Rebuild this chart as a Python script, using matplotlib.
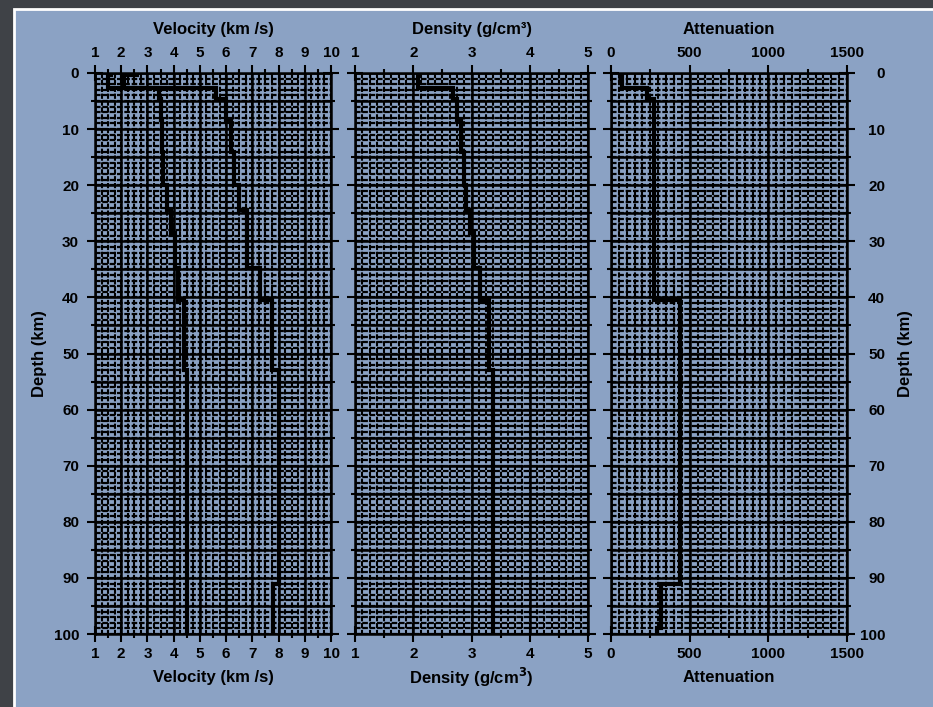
import matplotlib.pyplot as plt
import numpy as np
from matplotlib.patches import Rectangle

plt.rcParams['font.family'] = ['Liberation Sans', 'DejaVu Sans']
plt.rcParams['font.weight'] = 'bold'

# layer boundaries (km) and the step profiles
depth_edges = [0, 0.4, 2.6, 4.7, 8.4, 14, 20, 24.4, 28.6, 34.8, 40.4, 53, 91, 99, 100]
vp = [2.6, 2.1, 5.6, 6.0, 6.2, 6.3, 6.5, 6.8, 6.8, 7.3, 7.75, 8.0, 7.8, 7.8]
vs = [1.6, 1.5, 3.45, 3.5, 3.55, 3.6, 3.75, 3.9, 4.05, 4.15, 4.4, 4.5, 4.5, 4.5]
density = [2.1, 2.08, 2.68, 2.75, 2.82, 2.87, 2.9, 2.97, 3.05, 3.15, 3.3, 3.37, 3.37, 3.37]
atten = [70, 70, 228, 271, 271, 271, 271, 271, 271, 271, 441, 441, 320, 290]

vel_ticks = np.arange(1, 11)
dens_ticks = np.arange(1, 6)
att_ticks = [0, 500, 1000, 1500]
depth_ticks = np.arange(0, 101, 10)

W, H = 933, 707
fig = plt.figure(figsize=(W / 100, H / 100), dpi=100, facecolor='#3f4247')
fig.patches.append(Rectangle((14 / W, -0.01), 1, (H - 9) / H + 0.01, transform=fig.transFigure,
                             facecolor='#8ba2c4', edgecolor='white', lw=2.0, zorder=-10))

bottom = 1 - 634 / H
height = 561 / H
ax1 = fig.add_axes([95 / W, bottom, 236 / W, height])
ax2 = fig.add_axes([355 / W, bottom, 233 / W, height])
ax3 = fig.add_axes([611 / W, bottom, 236 / W, height])


def setup(ax, xlim, ticks, minor_step, grid_step, label, top_label):
    ax.set_facecolor('none')
    ax.set_xlim(*xlim)
    ax.set_ylim(100, 0)
    ax.set_xticks(ticks)
    ax.set_xticks(np.arange(xlim[0], xlim[1] + 1e-9, minor_step), minor=True)
    ax.set_yticks(depth_ticks)
    ax.set_yticks(np.arange(0, 101, 5), minor=True)
    # dense grid
    ax.vlines(np.arange(xlim[0], xlim[1] + 1e-9, grid_step), 0, 100, colors='k',
              linestyles=(0, (2.5, 0.8)), lw=1.5, zorder=1)
    ax.hlines(np.arange(0, 101, 1), xlim[0], xlim[1], colors='k',
              linestyles=(0, (2.5, 0.8)), lw=1.6, zorder=1)
    ax.vlines(ticks, 0, 100, colors='k', lw=1.8, zorder=1)
    ax.hlines(np.arange(0, 101, 5), xlim[0], xlim[1], colors='k', lw=1.8, zorder=1)
    for s in ax.spines.values():
        s.set_linewidth(1.8)
    ax.tick_params(which='both', direction='inout', top=True, bottom=True,
                   left=True, right=True, width=1.5, labelsize=11,
                   labeltop=True, labelbottom=True, labelleft=False, labelright=False)
    ax.tick_params(which='major', length=11)
    ax.tick_params(which='minor', length=6)
    ax.tick_params(axis='x', pad=4)
    ax.text(0.5, 1.077, top_label, transform=ax.transAxes, ha='center', va='center', fontsize=12)
    ax.text(0.5, -0.078, label, transform=ax.transAxes, ha='center', va='center', fontsize=12)


setup(ax1, (1, 10), vel_ticks, 0.5, 0.25, 'Velocity (km /s)', 'Velocity (km /s)')
setup(ax2, (1, 5), dens_ticks, 0.5, 0.125, 'Density (g/cm$^\\mathbf{3}$)', 'Density (g/cm³)')
setup(ax3, (0, 1500), att_ticks, 250, 50, 'Attenuation', 'Attenuation')

ax1.stairs(vp, depth_edges, orientation='horizontal', baseline=None, color='k', lw=3, zorder=3)
ax1.stairs(vs, depth_edges, orientation='horizontal', baseline=None, color='k', lw=3, zorder=3)
ax2.stairs(density, depth_edges, orientation='horizontal', baseline=None, color='k', lw=3, zorder=3)
ax3.stairs(atten, depth_edges, orientation='horizontal', baseline=None, color='k', lw=3, zorder=3)

ax1.tick_params(axis='y', labelleft=True, pad=6)
ax3.tick_params(axis='y', labelright=True, pad=22)
for t in ax3.get_yticklabels():
    t.set_horizontalalignment('right')

ax1.text(-0.237, 0.5, 'Depth (km)', rotation=90, transform=ax1.transAxes,
         ha='center', va='center', fontsize=12)
ax3.text(1.247, 0.5, 'Depth (km)', rotation=90, transform=ax3.transAxes,
         ha='center', va='center', fontsize=12)

fig.savefig('out.png', dpi=100, facecolor=fig.get_facecolor())
